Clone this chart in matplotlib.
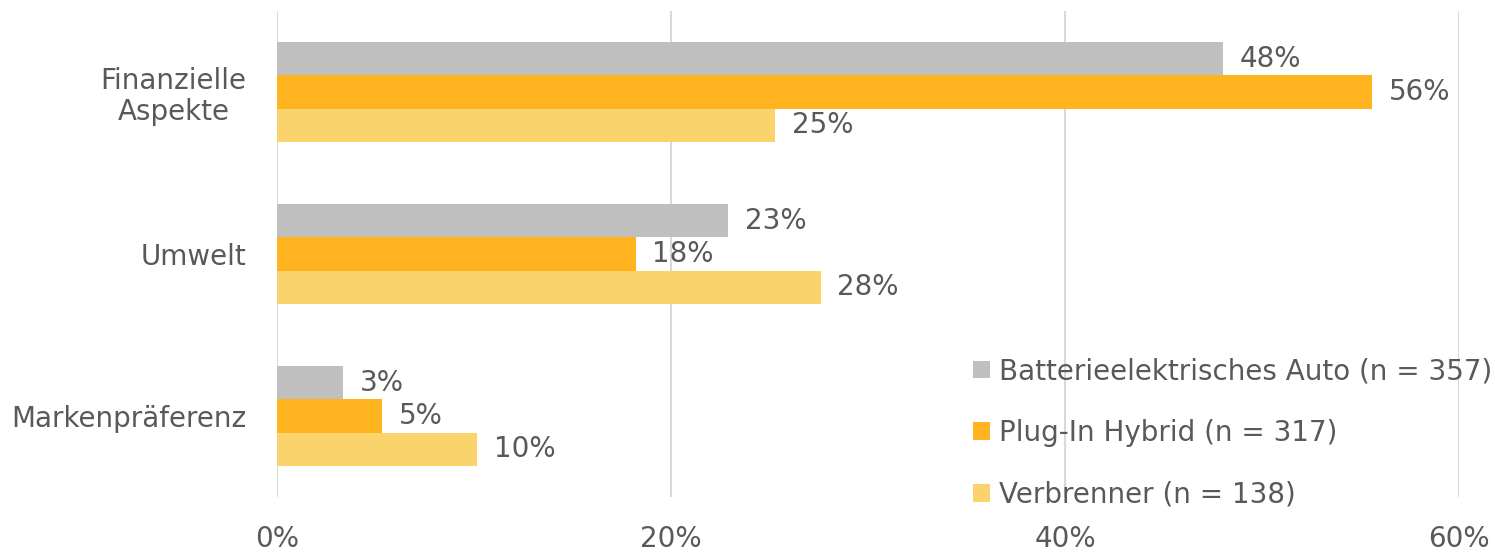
import numpy as np
import matplotlib.pyplot as plt

categories = ['Finanzielle\nAspekte', 'Umwelt', 'Markenpräferenz']
series = ['Batterieelektrisches Auto (n = 357)', 'Plug-In Hybrid (n = 317)', 'Verbrenner (n = 138)']
bev = [48.0, 22.9, 3.35]
phev = [55.6, 18.2, 5.33]
ice = [25.3, 27.6, 10.15]
colors = ['#BFBFBF', '#FFB31F', '#FAD36C']
xticks = [0, 20, 40, 60]

txt = '#595959'
fs = 20
plt.rcParams['font.family'] = ['DejaVu Sans']

fig = plt.figure(figsize=(14.95, 5.54), dpi=100)
ax = fig.add_axes([277/1495, 1-497/554, (1459-277)/1495, (497-11)/554])
ax.set_axisbelow(True)

y = np.arange(len(categories))
h = 0.204
for i, (vals, name) in enumerate(zip([bev, phev, ice], series)):
    pos = y + (i - 1) * h
    ax.barh(pos, vals, height=h, color=colors[i], label=name, zorder=2)
    for p, v in zip(pos, vals):
        ax.annotate(f'{round(v)}%', (v, p), xytext=(12, 0), textcoords='offset points',
                    ha='left', va='center', fontsize=fs, color=txt)

ax.set_ylim(len(categories) - 0.5, -0.5)
ax.set_xlim(0, 60)
ax.set_xticks(xticks)
ax.set_xticklabels([f'{t}%' for t in xticks])
ax.set_yticks(y)
ax.set_yticklabels(categories)
for lab in ax.get_yticklabels():
    lab.set_multialignment('center')
    lab.set_linespacing(1.15)
ax.tick_params(axis='x', length=0, pad=20, labelsize=fs, labelcolor=txt)
ax.tick_params(axis='y', length=0, pad=22, labelsize=fs, labelcolor=txt)
ax.grid(axis='x', color='#D9D9D9', linewidth=1.5)
for s in ax.spines.values():
    s.set_visible(False)

fig.legend(loc='lower left', bbox_to_anchor=(962/1495, 1-520/554), frameon=False,
           fontsize=fs, labelcolor=txt, handlelength=0.6, handleheight=0.6,
           handletextpad=0.35, labelspacing=1.22, borderaxespad=0)

fig.savefig('out.png', dpi=100)
